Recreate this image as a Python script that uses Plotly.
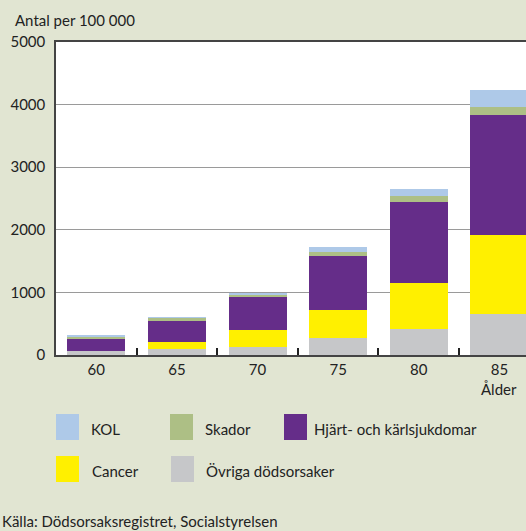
import plotly.graph_objects as go

ages = ["60", "65", "70", "75", "80", "85"]
ovriga = [64, 100, 133, 267, 411, 651]
cancer = [0, 107, 267, 453, 747, 1269]
hjart = [197, 336, 523, 864, 1285, 1920]
skador = [27, 50, 48, 64, 101, 123]
kol = [21, 8, 16, 85, 112, 277]

series = [
    ("Övriga dödsorsaker", ovriga, "#c6c7c9"),
    ("Cancer", cancer, "#fff000"),
    ("Hjärt- och kärlsjukdomar", hjart, "#652d89"),
    ("Skador", skador, "#adbf85"),
    ("KOL", kol, "#aec9e8"),
]

FONT = "Lato, 'Open Sans', sans-serif"
TXT = "#222222"
BG = "#e1e5d2"

W, H = 526, 531
L, R, T, B = 56, 0, 42, 176
pw, ph = W - L - R, H - T - B

def px(x):
    return (x - L) / pw

def py(y):
    return (H - B - y) / ph

fig = go.Figure()
for name, vals, col in series:
    fig.add_trace(go.Bar(x=ages, y=vals, name=name, marker=dict(color=col, line=dict(width=0)),
                         width=0.72, showlegend=False, hoverinfo="skip"))

# manual legend
legend_items = [
    ("KOL", "#aec9e8", 56, 414, 89),
    ("Skador", "#adbf85", 170, 414, 203),
    ("Hjärt- och kärlsjukdomar", "#652d89", 284, 414, 312),
    ("Cancer", "#fff000", 56, 456, 90),
    ("Övriga dödsorsaker", "#c6c7c9", 171, 456, 204),
]
shapes = []
annotations = []
for name, col, sx, sy, tx in legend_items:
    shapes.append(dict(type="rect", xref="paper", yref="paper",
                       x0=px(sx), x1=px(sx + 23), y0=py(sy), y1=py(sy + 26),
                       fillcolor=col, line=dict(width=0)))
    annotations.append(dict(text=name, xref="paper", yref="paper", x=px(tx), y=py(sy + 15),
                            xanchor="left", yanchor="middle", showarrow=False,
                            font=dict(family=FONT, size=15, color=TXT)))

annotations.append(dict(text="Antal per 100 000", xref="paper", yref="paper", x=px(13), y=py(20),
                        xanchor="left", yanchor="middle", showarrow=False,
                        font=dict(family=FONT, size=15, color=TXT)))
annotations.append(dict(text="Ålder", xref="x", yref="paper", x=5, y=py(389),
                        xanchor="center", yanchor="middle", showarrow=False,
                        font=dict(family=FONT, size=15, color=TXT)))
annotations.append(dict(text="Källa: Dödsorsaksregistret, Socialstyrelsen", xref="paper", yref="paper",
                        x=px(0), y=py(521), xanchor="left", yanchor="middle", showarrow=False,
                        font=dict(family=FONT, size=15, color=TXT)))

fig.update_layout(
    width=W, height=H,
    margin=dict(l=L, r=R, t=T, b=B, pad=0),
    paper_bgcolor=BG, plot_bgcolor="white",
    barmode="stack", bargap=0.28,
    shapes=shapes, annotations=annotations,
    font=dict(family=FONT, size=15, color=TXT),
    xaxis=dict(type="category", range=[-0.5, 5.33], showgrid=False,
               showline=True, linecolor="#444444", linewidth=1.5, mirror=True,
               ticks="inside", tickson="boundaries", ticklen=7, tickcolor="#222222", tickwidth=1.5,
               tickfont=dict(family=FONT, size=15, color=TXT)),
    yaxis=dict(range=[0, 5000], tickvals=[0, 1000, 2000, 3000, 4000, 5000],
               ticktext=["0", "1000", "2000", "3000", "4000", "5000"],
               showgrid=True, gridcolor="#9a9a9a", gridwidth=1,
               showline=True, linecolor="#444444", linewidth=1.5,
               ticks="", ticklabelstandoff=6, zeroline=False,
               tickfont=dict(family=FONT, size=15, color=TXT)),
)

fig.write_html("out.html", config={"displayModeBar": False},
               post_script="document.body.style.margin='0';document.body.style.overflow='hidden';")
